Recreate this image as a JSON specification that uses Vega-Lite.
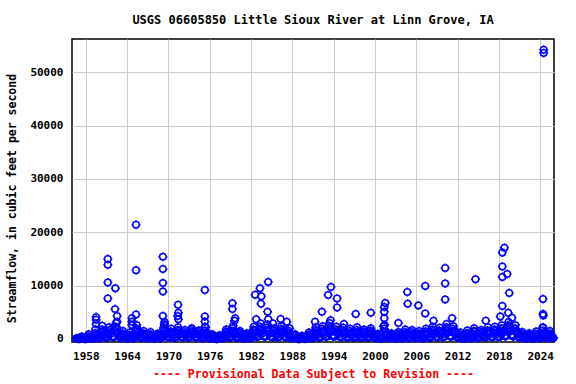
{
  "$schema": "https://vega.github.io/schema/vega-lite/v6.json",
  "width": 482,
  "height": 303,
  "autosize": "none",
  "padding": {"left": 72, "top": 39, "right": 22, "bottom": 42},
  "background": "white",
  "config": {
    "font": "DejaVu Sans Mono",
    "view": {"stroke": "black", "strokeWidth": 1.5},
    "axis": {"labelFont": "DejaVu Sans Mono", "labelFontWeight": "bold", "labelFontSize": 11, "labelColor": "black", "titleFont": "DejaVu Sans Mono", "titleFontWeight": "bold", "gridColor": "#cccccc", "gridWidth": 1, "ticks": false, "domain": false}
  },
  "title": {"text": "USGS 06605850 Little Sioux River at Linn Grove, IA", "font": "DejaVu Sans Mono", "fontSize": 12, "fontWeight": "bold", "color": "black", "offset": 12},
  "data": {"values": [
    {"t":1956.6,"q":80},{"t":1956.75,"q":150},{"t":1956.9,"q":60},
    {"t":1957.1,"q":40},{"t":1957.25,"q":120},{"t":1957.4,"q":450},{"t":1957.55,"q":300},{"t":1957.7,"q":90},{"t":1957.85,"q":60},
    {"t":1958.1,"q":70},{"t":1958.25,"q":200},{"t":1958.4,"q":900},{"t":1958.55,"q":350},{"t":1958.7,"q":150},{"t":1958.85,"q":90},
    {"t":1959.1,"q":150},{"t":1959.25,"q":600},{"t":1959.4,"q":1800},{"t":1959.55,"q":900},{"t":1959.7,"q":400},{"t":1959.85,"q":200},
    {"t":1960.1,"q":250},{"t":1960.25,"q":1200},{"t":1960.4,"q":2500},{"t":1960.55,"q":1500},{"t":1960.7,"q":700},{"t":1960.85,"q":300},
    {"t":1961.1,"q":300},{"t":1961.25,"q":900},{"t":1961.4,"q":2200},{"t":1961.55,"q":1800},{"t":1961.7,"q":1000},{"t":1961.85,"q":400},
    {"t":1962.1,"q":400},{"t":1962.25,"q":1500},{"t":1962.4,"q":3000},{"t":1962.55,"q":2000},{"t":1962.7,"q":900},{"t":1962.85,"q":500},
    {"t":1963.1,"q":200},{"t":1963.25,"q":700},{"t":1963.4,"q":1500},{"t":1963.55,"q":800},{"t":1963.7,"q":400},{"t":1963.85,"q":150},
    {"t":1964.1,"q":100},{"t":1964.25,"q":500},{"t":1964.4,"q":1200},{"t":1964.55,"q":600},{"t":1964.7,"q":300},{"t":1964.85,"q":120},
    {"t":1965.1,"q":300},{"t":1965.25,"q":1400},{"t":1965.4,"q":2600},{"t":1965.55,"q":1800},{"t":1965.7,"q":800},{"t":1965.85,"q":400},
    {"t":1966.1,"q":250},{"t":1966.25,"q":800},{"t":1966.4,"q":1500},{"t":1966.55,"q":900},{"t":1966.7,"q":500},{"t":1966.85,"q":200},
    {"t":1967.1,"q":200},{"t":1967.25,"q":600},{"t":1967.4,"q":1300},{"t":1967.55,"q":700},{"t":1967.7,"q":350},{"t":1967.85,"q":150},
    {"t":1968.1,"q":150},{"t":1968.25,"q":500},{"t":1968.4,"q":1000},{"t":1968.55,"q":800},{"t":1968.7,"q":300},{"t":1968.85,"q":120},
    {"t":1969.1,"q":400},{"t":1969.25,"q":1800},{"t":1969.4,"q":2800},{"t":1969.55,"q":1500},{"t":1969.7,"q":800},{"t":1969.85,"q":400},
    {"t":1970.1,"q":300},{"t":1970.25,"q":1000},{"t":1970.4,"q":1900},{"t":1970.55,"q":1200},{"t":1970.7,"q":600},{"t":1970.85,"q":250},
    {"t":1971.1,"q":350},{"t":1971.25,"q":1200},{"t":1971.4,"q":2200},{"t":1971.55,"q":1600},{"t":1971.7,"q":900},{"t":1971.85,"q":400},
    {"t":1972.1,"q":300},{"t":1972.25,"q":900},{"t":1972.4,"q":1700},{"t":1972.55,"q":1100},{"t":1972.7,"q":700},{"t":1972.85,"q":300},
    {"t":1973.1,"q":400},{"t":1973.25,"q":1300},{"t":1973.4,"q":2000},{"t":1973.55,"q":1400},{"t":1973.7,"q":800},{"t":1973.85,"q":350},
    {"t":1974.1,"q":300},{"t":1974.25,"q":1000},{"t":1974.4,"q":1600},{"t":1974.55,"q":900},{"t":1974.7,"q":500},{"t":1974.85,"q":200},
    {"t":1975.1,"q":250},{"t":1975.25,"q":900},{"t":1975.4,"q":2200},{"t":1975.55,"q":1300},{"t":1975.7,"q":600},{"t":1975.85,"q":250},
    {"t":1976.1,"q":150},{"t":1976.25,"q":500},{"t":1976.4,"q":900},{"t":1976.55,"q":400},{"t":1976.7,"q":150},{"t":1976.85,"q":70},
    {"t":1977.1,"q":60},{"t":1977.25,"q":200},{"t":1977.4,"q":700},{"t":1977.55,"q":500},{"t":1977.7,"q":300},{"t":1977.85,"q":150},
    {"t":1978.1,"q":250},{"t":1978.25,"q":900},{"t":1978.4,"q":1800},{"t":1978.55,"q":1200},{"t":1978.7,"q":700},{"t":1978.85,"q":300},
    {"t":1979.1,"q":400},{"t":1979.25,"q":1500},{"t":1979.4,"q":2500},{"t":1979.55,"q":1500},{"t":1979.7,"q":800},{"t":1979.85,"q":350},
    {"t":1980.1,"q":250},{"t":1980.25,"q":800},{"t":1980.4,"q":1500},{"t":1980.55,"q":900},{"t":1980.7,"q":400},{"t":1980.85,"q":150},
    {"t":1981.1,"q":150},{"t":1981.25,"q":500},{"t":1981.4,"q":1100},{"t":1981.55,"q":700},{"t":1981.7,"q":300},{"t":1981.85,"q":150},
    {"t":1982.1,"q":300},{"t":1982.25,"q":1200},{"t":1982.4,"q":2300},{"t":1982.55,"q":1600},{"t":1982.7,"q":900},{"t":1982.85,"q":400},
    {"t":1983.1,"q":500},{"t":1983.25,"q":1700},{"t":1983.4,"q":2900},{"t":1983.55,"q":2000},{"t":1983.7,"q":1100},{"t":1983.85,"q":500},
    {"t":1984.1,"q":450},{"t":1984.25,"q":1600},{"t":1984.4,"q":2700},{"t":1984.55,"q":1800},{"t":1984.7,"q":1000},{"t":1984.85,"q":450},
    {"t":1985.1,"q":350},{"t":1985.25,"q":1100},{"t":1985.4,"q":2000},{"t":1985.55,"q":1300},{"t":1985.7,"q":700},{"t":1985.85,"q":300},
    {"t":1986.1,"q":400},{"t":1986.25,"q":1400},{"t":1986.4,"q":2400},{"t":1986.55,"q":1700},{"t":1986.7,"q":1100},{"t":1986.85,"q":450},
    {"t":1987.1,"q":300},{"t":1987.25,"q":900},{"t":1987.4,"q":1600},{"t":1987.55,"q":1000},{"t":1987.7,"q":500},{"t":1987.85,"q":200},
    {"t":1988.1,"q":200},{"t":1988.25,"q":600},{"t":1988.4,"q":900},{"t":1988.55,"q":300},{"t":1988.7,"q":120},{"t":1988.85,"q":60},
    {"t":1989.1,"q":70},{"t":1989.25,"q":250},{"t":1989.4,"q":600},{"t":1989.55,"q":300},{"t":1989.7,"q":120},{"t":1989.85,"q":60},
    {"t":1990.1,"q":80},{"t":1990.25,"q":400},{"t":1990.4,"q":1200},{"t":1990.55,"q":800},{"t":1990.7,"q":400},{"t":1990.85,"q":200},
    {"t":1991.1,"q":300},{"t":1991.25,"q":1200},{"t":1991.4,"q":2200},{"t":1991.55,"q":1500},{"t":1991.7,"q":800},{"t":1991.85,"q":350},
    {"t":1992.1,"q":350},{"t":1992.25,"q":1300},{"t":1992.4,"q":2400},{"t":1992.55,"q":1600},{"t":1992.7,"q":900},{"t":1992.85,"q":400},
    {"t":1993.1,"q":500},{"t":1993.25,"q":1800},{"t":1993.4,"q":3000},{"t":1993.55,"q":2200},{"t":1993.7,"q":1400},{"t":1993.85,"q":600},
    {"t":1994.1,"q":400},{"t":1994.25,"q":1300},{"t":1994.4,"q":2300},{"t":1994.55,"q":1500},{"t":1994.7,"q":900},{"t":1994.85,"q":400},
    {"t":1995.1,"q":350},{"t":1995.25,"q":1100},{"t":1995.4,"q":2100},{"t":1995.55,"q":1400},{"t":1995.7,"q":800},{"t":1995.85,"q":350},
    {"t":1996.1,"q":300},{"t":1996.25,"q":1000},{"t":1996.4,"q":1900},{"t":1996.55,"q":1200},{"t":1996.7,"q":700},{"t":1996.85,"q":300},
    {"t":1997.1,"q":350},{"t":1997.25,"q":1200},{"t":1997.4,"q":2200},{"t":1997.55,"q":1300},{"t":1997.7,"q":700},{"t":1997.85,"q":300},
    {"t":1998.1,"q":300},{"t":1998.25,"q":1000},{"t":1998.4,"q":1800},{"t":1998.55,"q":1300},{"t":1998.7,"q":700},{"t":1998.85,"q":300},
    {"t":1999.1,"q":350},{"t":1999.25,"q":1100},{"t":1999.4,"q":2000},{"t":1999.55,"q":1400},{"t":1999.7,"q":800},{"t":1999.85,"q":350},
    {"t":2000.1,"q":200},{"t":2000.25,"q":600},{"t":2000.4,"q":1000},{"t":2000.55,"q":500},{"t":2000.7,"q":200},{"t":2000.85,"q":100},
    {"t":2001.1,"q":250},{"t":2001.25,"q":1200},{"t":2001.4,"q":2600},{"t":2001.55,"q":1400},{"t":2001.7,"q":600},{"t":2001.85,"q":250},
    {"t":2002.1,"q":150},{"t":2002.25,"q":500},{"t":2002.4,"q":1100},{"t":2002.55,"q":600},{"t":2002.7,"q":250},{"t":2002.85,"q":120},
    {"t":2003.1,"q":150},{"t":2003.25,"q":600},{"t":2003.4,"q":1300},{"t":2003.55,"q":800},{"t":2003.7,"q":300},{"t":2003.85,"q":150},
    {"t":2004.1,"q":200},{"t":2004.25,"q":800},{"t":2004.4,"q":1800},{"t":2004.55,"q":1100},{"t":2004.7,"q":500},{"t":2004.85,"q":200},
    {"t":2005.1,"q":250},{"t":2005.25,"q":900},{"t":2005.4,"q":1700},{"t":2005.55,"q":1000},{"t":2005.7,"q":500},{"t":2005.85,"q":250},
    {"t":2006.1,"q":200},{"t":2006.25,"q":700},{"t":2006.4,"q":1500},{"t":2006.55,"q":900},{"t":2006.7,"q":400},{"t":2006.85,"q":180},
    {"t":2007.1,"q":250},{"t":2007.25,"q":900},{"t":2007.4,"q":1900},{"t":2007.55,"q":1300},{"t":2007.7,"q":700},{"t":2007.85,"q":300},
    {"t":2008.1,"q":300},{"t":2008.25,"q":1200},{"t":2008.4,"q":2300},{"t":2008.55,"q":1600},{"t":2008.7,"q":900},{"t":2008.85,"q":400},
    {"t":2009.1,"q":350},{"t":2009.25,"q":1100},{"t":2009.4,"q":2100},{"t":2009.55,"q":1400},{"t":2009.7,"q":800},{"t":2009.85,"q":350},
    {"t":2010.1,"q":450},{"t":2010.25,"q":1600},{"t":2010.4,"q":2800},{"t":2010.55,"q":2000},{"t":2010.7,"q":1200},{"t":2010.85,"q":500},
    {"t":2011.1,"q":400},{"t":2011.25,"q":1300},{"t":2011.4,"q":2400},{"t":2011.55,"q":1600},{"t":2011.7,"q":900},{"t":2011.85,"q":400},
    {"t":2012.1,"q":250},{"t":2012.25,"q":700},{"t":2012.4,"q":1200},{"t":2012.55,"q":500},{"t":2012.7,"q":200},{"t":2012.85,"q":100},
    {"t":2013.1,"q":120},{"t":2013.25,"q":600},{"t":2013.4,"q":1600},{"t":2013.55,"q":1000},{"t":2013.7,"q":400},{"t":2013.85,"q":200},
    {"t":2014.1,"q":250},{"t":2014.25,"q":1000},{"t":2014.4,"q":2000},{"t":2014.55,"q":1400},{"t":2014.7,"q":700},{"t":2014.85,"q":300},
    {"t":2015.1,"q":300},{"t":2015.25,"q":900},{"t":2015.4,"q":1700},{"t":2015.55,"q":1200},{"t":2015.7,"q":600},{"t":2015.85,"q":300},
    {"t":2016.1,"q":350},{"t":2016.25,"q":1100},{"t":2016.4,"q":2200},{"t":2016.55,"q":1500},{"t":2016.7,"q":900},{"t":2016.85,"q":400},
    {"t":2017.1,"q":350},{"t":2017.25,"q":1200},{"t":2017.4,"q":2300},{"t":2017.55,"q":1600},{"t":2017.7,"q":900},{"t":2017.85,"q":400},
    {"t":2018.1,"q":400},{"t":2018.25,"q":1400},{"t":2018.4,"q":2600},{"t":2018.55,"q":1900},{"t":2018.7,"q":1200},{"t":2018.85,"q":500},
    {"t":2019.1,"q":600},{"t":2019.25,"q":2000},{"t":2019.4,"q":3200},{"t":2019.55,"q":2400},{"t":2019.7,"q":1500},{"t":2019.85,"q":700},
    {"t":2020.1,"q":450},{"t":2020.25,"q":1500},{"t":2020.4,"q":2600},{"t":2020.55,"q":1600},{"t":2020.7,"q":900},{"t":2020.85,"q":400},
    {"t":2021.1,"q":250},{"t":2021.25,"q":700},{"t":2021.4,"q":1300},{"t":2021.55,"q":600},{"t":2021.7,"q":250},{"t":2021.85,"q":120},
    {"t":2022.1,"q":150},{"t":2022.25,"q":500},{"t":2022.4,"q":1100},{"t":2022.55,"q":600},{"t":2022.7,"q":250},{"t":2022.85,"q":120},
    {"t":2023.1,"q":150},{"t":2023.25,"q":600},{"t":2023.4,"q":1400},{"t":2023.55,"q":700},{"t":2023.7,"q":300},{"t":2023.85,"q":150},
    {"t":2024.1,"q":250},{"t":2024.25,"q":900},{"t":2024.4,"q":2200},{"t":2024.55,"q":1300},{"t":2024.7,"q":600},{"t":2024.85,"q":300},
    {"t":2025.1,"q":200},{"t":2025.25,"q":600},{"t":2025.4,"q":1500},{"t":2025.55,"q":900},{"t":2025.7,"q":400},{"t":2025.85,"q":250},
    {"t":1957.03,"q":100},{"t":1957.33,"q":250},{"t":1957.63,"q":180},{"t":1957.93,"q":50},
    {"t":1958.03,"q":60},{"t":1958.33,"q":500},{"t":1958.63,"q":250},{"t":1958.93,"q":100},
    {"t":1959.03,"q":120},{"t":1959.33,"q":1100},{"t":1959.63,"q":600},{"t":1959.93,"q":250},
    {"t":1960.03,"q":200},{"t":1960.33,"q":1800},{"t":1960.63,"q":1000},{"t":1960.93,"q":350},
    {"t":1961.03,"q":300},{"t":1961.33,"q":1500},{"t":1961.63,"q":1300},{"t":1961.93,"q":450},
    {"t":1962.03,"q":350},{"t":1962.33,"q":2300},{"t":1962.63,"q":1300},{"t":1962.93,"q":400},
    {"t":1963.03,"q":250},{"t":1963.33,"q":1100},{"t":1963.63,"q":600},{"t":1963.93,"q":200},
    {"t":1964.03,"q":120},{"t":1964.33,"q":800},{"t":1964.63,"q":450},{"t":1964.93,"q":150},
    {"t":1965.03,"q":250},{"t":1965.33,"q":2000},{"t":1965.63,"q":1200},{"t":1965.93,"q":450},
    {"t":1966.03,"q":300},{"t":1966.33,"q":1100},{"t":1966.63,"q":700},{"t":1966.93,"q":250},
    {"t":1967.03,"q":180},{"t":1967.33,"q":900},{"t":1967.63,"q":500},{"t":1967.93,"q":150},
    {"t":1968.03,"q":120},{"t":1968.33,"q":700},{"t":1968.63,"q":550},{"t":1968.93,"q":180},
    {"t":1969.03,"q":300},{"t":1969.33,"q":2200},{"t":1969.63,"q":1100},{"t":1969.93,"q":450},
    {"t":1970.03,"q":350},{"t":1970.33,"q":1400},{"t":1970.63,"q":900},{"t":1970.93,"q":300},
    {"t":1971.03,"q":300},{"t":1971.33,"q":1700},{"t":1971.63,"q":1200},{"t":1971.93,"q":450},
    {"t":1972.03,"q":350},{"t":1972.33,"q":1300},{"t":1972.63,"q":900},{"t":1972.93,"q":350},
    {"t":1973.03,"q":350},{"t":1973.33,"q":1700},{"t":1973.63,"q":1100},{"t":1973.93,"q":400},
    {"t":1974.03,"q":350},{"t":1974.33,"q":1300},{"t":1974.63,"q":700},{"t":1974.93,"q":250},
    {"t":1975.03,"q":200},{"t":1975.33,"q":1600},{"t":1975.63,"q":900},{"t":1975.93,"q":200},
    {"t":1976.03,"q":180},{"t":1976.33,"q":700},{"t":1976.63,"q":250},{"t":1976.93,"q":60},
    {"t":1977.03,"q":50},{"t":1977.33,"q":400},{"t":1977.63,"q":400},{"t":1977.93,"q":200},
    {"t":1978.03,"q":200},{"t":1978.33,"q":1400},{"t":1978.63,"q":900},{"t":1978.93,"q":350},
    {"t":1979.03,"q":350},{"t":1979.33,"q":2000},{"t":1979.63,"q":1100},{"t":1979.93,"q":300},
    {"t":1980.03,"q":300},{"t":1980.33,"q":1200},{"t":1980.63,"q":600},{"t":1980.93,"q":200},
    {"t":1981.03,"q":120},{"t":1981.33,"q":800},{"t":1981.63,"q":500},{"t":1981.93,"q":200},
    {"t":1982.03,"q":250},{"t":1982.33,"q":1800},{"t":1982.63,"q":1200},{"t":1982.93,"q":450},
    {"t":1983.03,"q":450},{"t":1983.33,"q":2300},{"t":1983.63,"q":1500},{"t":1983.93,"q":550},
    {"t":1984.03,"q":500},{"t":1984.33,"q":2100},{"t":1984.63,"q":1400},{"t":1984.93,"q":400},
    {"t":1985.03,"q":400},{"t":1985.33,"q":1600},{"t":1985.63,"q":1000},{"t":1985.93,"q":350},
    {"t":1986.03,"q":350},{"t":1986.33,"q":1900},{"t":1986.63,"q":1400},{"t":1986.93,"q":500},
    {"t":1987.03,"q":350},{"t":1987.33,"q":1300},{"t":1987.63,"q":700},{"t":1987.93,"q":250},
    {"t":1988.03,"q":220},{"t":1988.33,"q":800},{"t":1988.63,"q":200},{"t":1988.93,"q":50},
    {"t":1989.03,"q":60},{"t":1989.33,"q":450},{"t":1989.63,"q":200},{"t":1989.93,"q":70},
    {"t":1990.03,"q":70},{"t":1990.33,"q":800},{"t":1990.63,"q":600},{"t":1990.93,"q":250},
    {"t":1991.03,"q":250},{"t":1991.33,"q":1700},{"t":1991.63,"q":1100},{"t":1991.93,"q":400},
    {"t":1992.03,"q":400},{"t":1992.33,"q":1900},{"t":1992.63,"q":1200},{"t":1992.93,"q":450},
    {"t":1993.03,"q":450},{"t":1993.33,"q":2500},{"t":1993.63,"q":1800},{"t":1993.93,"q":700},
    {"t":1994.03,"q":450},{"t":1994.33,"q":1800},{"t":1994.63,"q":1200},{"t":1994.93,"q":450},
    {"t":1995.03,"q":400},{"t":1995.33,"q":1600},{"t":1995.63,"q":1100},{"t":1995.93,"q":400},
    {"t":1996.03,"q":350},{"t":1996.33,"q":1500},{"t":1996.63,"q":900},{"t":1996.93,"q":350},
    {"t":1997.03,"q":300},{"t":1997.33,"q":1700},{"t":1997.63,"q":1000},{"t":1997.93,"q":350},
    {"t":1998.03,"q":350},{"t":1998.33,"q":1400},{"t":1998.63,"q":1000},{"t":1998.93,"q":350},
    {"t":1999.03,"q":300},{"t":1999.33,"q":1600},{"t":1999.63,"q":1100},{"t":1999.93,"q":300},
    {"t":2000.03,"q":250},{"t":2000.33,"q":800},{"t":2000.63,"q":350},{"t":2000.93,"q":120},
    {"t":2001.03,"q":200},{"t":2001.33,"q":1900},{"t":2001.63,"q":900},{"t":2001.93,"q":300},
    {"t":2002.03,"q":180},{"t":2002.33,"q":800},{"t":2002.63,"q":400},{"t":2002.93,"q":150},
    {"t":2003.03,"q":120},{"t":2003.33,"q":1000},{"t":2003.63,"q":500},{"t":2003.93,"q":180},
    {"t":2004.03,"q":180},{"t":2004.33,"q":1300},{"t":2004.63,"q":800},{"t":2004.93,"q":250},
    {"t":2005.03,"q":220},{"t":2005.33,"q":1300},{"t":2005.63,"q":700},{"t":2005.93,"q":300},
    {"t":2006.03,"q":250},{"t":2006.33,"q":1100},{"t":2006.63,"q":600},{"t":2006.93,"q":200},
    {"t":2007.03,"q":200},{"t":2007.33,"q":1400},{"t":2007.63,"q":1000},{"t":2007.93,"q":350},
    {"t":2008.03,"q":350},{"t":2008.33,"q":1800},{"t":2008.63,"q":1200},{"t":2008.93,"q":450},
    {"t":2009.03,"q":400},{"t":2009.33,"q":1600},{"t":2009.63,"q":1100},{"t":2009.93,"q":400},
    {"t":2010.03,"q":400},{"t":2010.33,"q":2200},{"t":2010.63,"q":1600},{"t":2010.93,"q":550},
    {"t":2011.03,"q":450},{"t":2011.33,"q":1900},{"t":2011.63,"q":1200},{"t":2011.93,"q":450},
    {"t":2012.03,"q":300},{"t":2012.33,"q":900},{"t":2012.63,"q":300},{"t":2012.93,"q":80},
    {"t":2013.03,"q":100},{"t":2013.33,"q":1100},{"t":2013.63,"q":700},{"t":2013.93,"q":250},
    {"t":2014.03,"q":200},{"t":2014.33,"q":1500},{"t":2014.63,"q":1000},{"t":2014.93,"q":350},
    {"t":2015.03,"q":250},{"t":2015.33,"q":1300},{"t":2015.63,"q":900},{"t":2015.93,"q":350},
    {"t":2016.03,"q":300},{"t":2016.33,"q":1600},{"t":2016.63,"q":1200},{"t":2016.93,"q":450},
    {"t":2017.03,"q":400},{"t":2017.33,"q":1800},{"t":2017.63,"q":1200},{"t":2017.93,"q":450},
    {"t":2018.03,"q":350},{"t":2018.33,"q":2000},{"t":2018.63,"q":1500},{"t":2018.93,"q":600},
    {"t":2019.03,"q":550},{"t":2019.33,"q":2600},{"t":2019.63,"q":1900},{"t":2019.93,"q":800},
    {"t":2020.03,"q":500},{"t":2020.33,"q":2000},{"t":2020.63,"q":1200},{"t":2020.93,"q":350},
    {"t":2021.03,"q":300},{"t":2021.33,"q":1000},{"t":2021.63,"q":400},{"t":2021.93,"q":100},
    {"t":2022.03,"q":120},{"t":2022.33,"q":800},{"t":2022.63,"q":400},{"t":2022.93,"q":100},
    {"t":2023.03,"q":130},{"t":2023.33,"q":1000},{"t":2023.63,"q":450},{"t":2023.93,"q":130},
    {"t":2024.03,"q":200},{"t":2024.33,"q":1600},{"t":2024.63,"q":900},{"t":2024.93,"q":350},
    {"t":2025.03,"q":250},{"t":2025.33,"q":1100},{"t":2025.63,"q":650},{"t":2025.93,"q":200},
    {"t":1959.5,"q":4100},{"t":1959.5,"q":3600},{"t":1959.5,"q":2800},
    {"t":1961.2,"q":15000},{"t":1961.2,"q":13900},{"t":1961.2,"q":10600},{"t":1961.2,"q":7600},
    {"t":1962.3,"q":9500},{"t":1962.25,"q":5600},{"t":1962.55,"q":4300},{"t":1962.55,"q":3250},
    {"t":1964.7,"q":3900},{"t":1964.7,"q":3250},{"t":1964.7,"q":2600},
    {"t":1965.3,"q":21400},{"t":1965.3,"q":12900},{"t":1965.3,"q":4600},
    {"t":1969.2,"q":15400},{"t":1969.2,"q":13100},{"t":1969.2,"q":10500},{"t":1969.2,"q":8900},{"t":1969.2,"q":4300},{"t":1969.45,"q":3200},{"t":1969.45,"q":2600},
    {"t":1971.4,"q":6400},{"t":1971.45,"q":4900},{"t":1971.35,"q":4300},{"t":1971.45,"q":3700},
    {"t":1975.3,"q":9200},{"t":1975.3,"q":4200},{"t":1975.3,"q":3300},{"t":1975.3,"q":2300},
    {"t":1979.3,"q":6700},{"t":1979.3,"q":5600},{"t":1979.7,"q":3900},{"t":1979.6,"q":3400},
    {"t":1982.6,"q":8300},{"t":1983.3,"q":9500},{"t":1983.5,"q":8000},{"t":1983.45,"q":6600},{"t":1982.75,"q":3700},
    {"t":1984.5,"q":10700},{"t":1984.4,"q":5100},{"t":1984.5,"q":3700},{"t":1985.2,"q":2900},
    {"t":1986.3,"q":3750},{"t":1987.2,"q":3250},{"t":1987.6,"q":2000},
    {"t":1991.3,"q":3250},{"t":1992.3,"q":5100},{"t":1993.2,"q":8250},{"t":1993.6,"q":9750},{"t":1993.55,"q":3500},
    {"t":1994.5,"q":7600},{"t":1994.5,"q":5900},{"t":1995.5,"q":2800},
    {"t":1997.2,"q":4700},{"t":1999.4,"q":4900},
    {"t":2001.5,"q":6750},{"t":2001.35,"q":6000},{"t":2001.35,"q":5100},{"t":2001.35,"q":3900},{"t":2001.25,"q":2400},
    {"t":2003.4,"q":3000},{"t":2004.7,"q":8800},{"t":2004.75,"q":6600},{"t":2006.3,"q":6300},
    {"t":2007.3,"q":9950},{"t":2007.3,"q":4800},{"t":2008.5,"q":3400},
    {"t":2010.2,"q":13300},{"t":2010.2,"q":10400},{"t":2010.2,"q":7400},{"t":2011.2,"q":3900},
    {"t":2014.6,"q":11200},{"t":2016.1,"q":3400},
    {"t":2018.5,"q":16200},{"t":2018.8,"q":17100},{"t":2018.5,"q":13600},{"t":2018.5,"q":11600},{"t":2019.2,"q":12200},{"t":2019.5,"q":8600},{"t":2018.5,"q":6200},{"t":2019.35,"q":4900},{"t":2018.2,"q":4200},{"t":2019.9,"q":4000},
    {"t":2024.4,"q":7500},{"t":2024.4,"q":4700},{"t":2024.45,"q":4400},{"t":2024.35,"q":2100},
    {"t":2024.5,"q":54200},{"t":2024.5,"q":53600}
  ]},
  "mark": {"type": "point", "shape": "M-0.72,0A0.72,0.72 0 1,0 0.72,0A0.72,0.72 0 1,0 -0.72,0ZM0,-0.72L0,-1M0,0.72L0,1M-0.72,0L-1,0M0.72,0L1,0", "filled": false, "stroke": "#0000ff", "strokeWidth": 1.5, "size": 81, "opacity": 1},
  "encoding": {
    "x": {"field": "t", "type": "quantitative", "scale": {"domain": [1956.0, 2026.0], "nice": false, "zero": false},
      "axis": {"values": [1958,1964,1970,1976,1982,1988,1994,2000,2006,2012,2018,2024], "format": "d", "labelPadding": 8, "title": "---- Provisional Data Subject to Revision ----", "titleColor": "#ff0000", "titleFontSize": 11.6, "titlePadding": 7}},
    "y": {"field": "q", "type": "quantitative", "scale": {"domain": [-563, 56230], "nice": false, "zero": false},
      "axis": {"values": [0,10000,20000,30000,40000,50000], "format": "d", "labelPadding": 9, "title": "Streamflow, in cubic feet per second", "titleFontSize": 11.5, "titleX": -60, "titleY": 159, "titleBaseline": "middle", "titleAngle": -90}}
  }
}
